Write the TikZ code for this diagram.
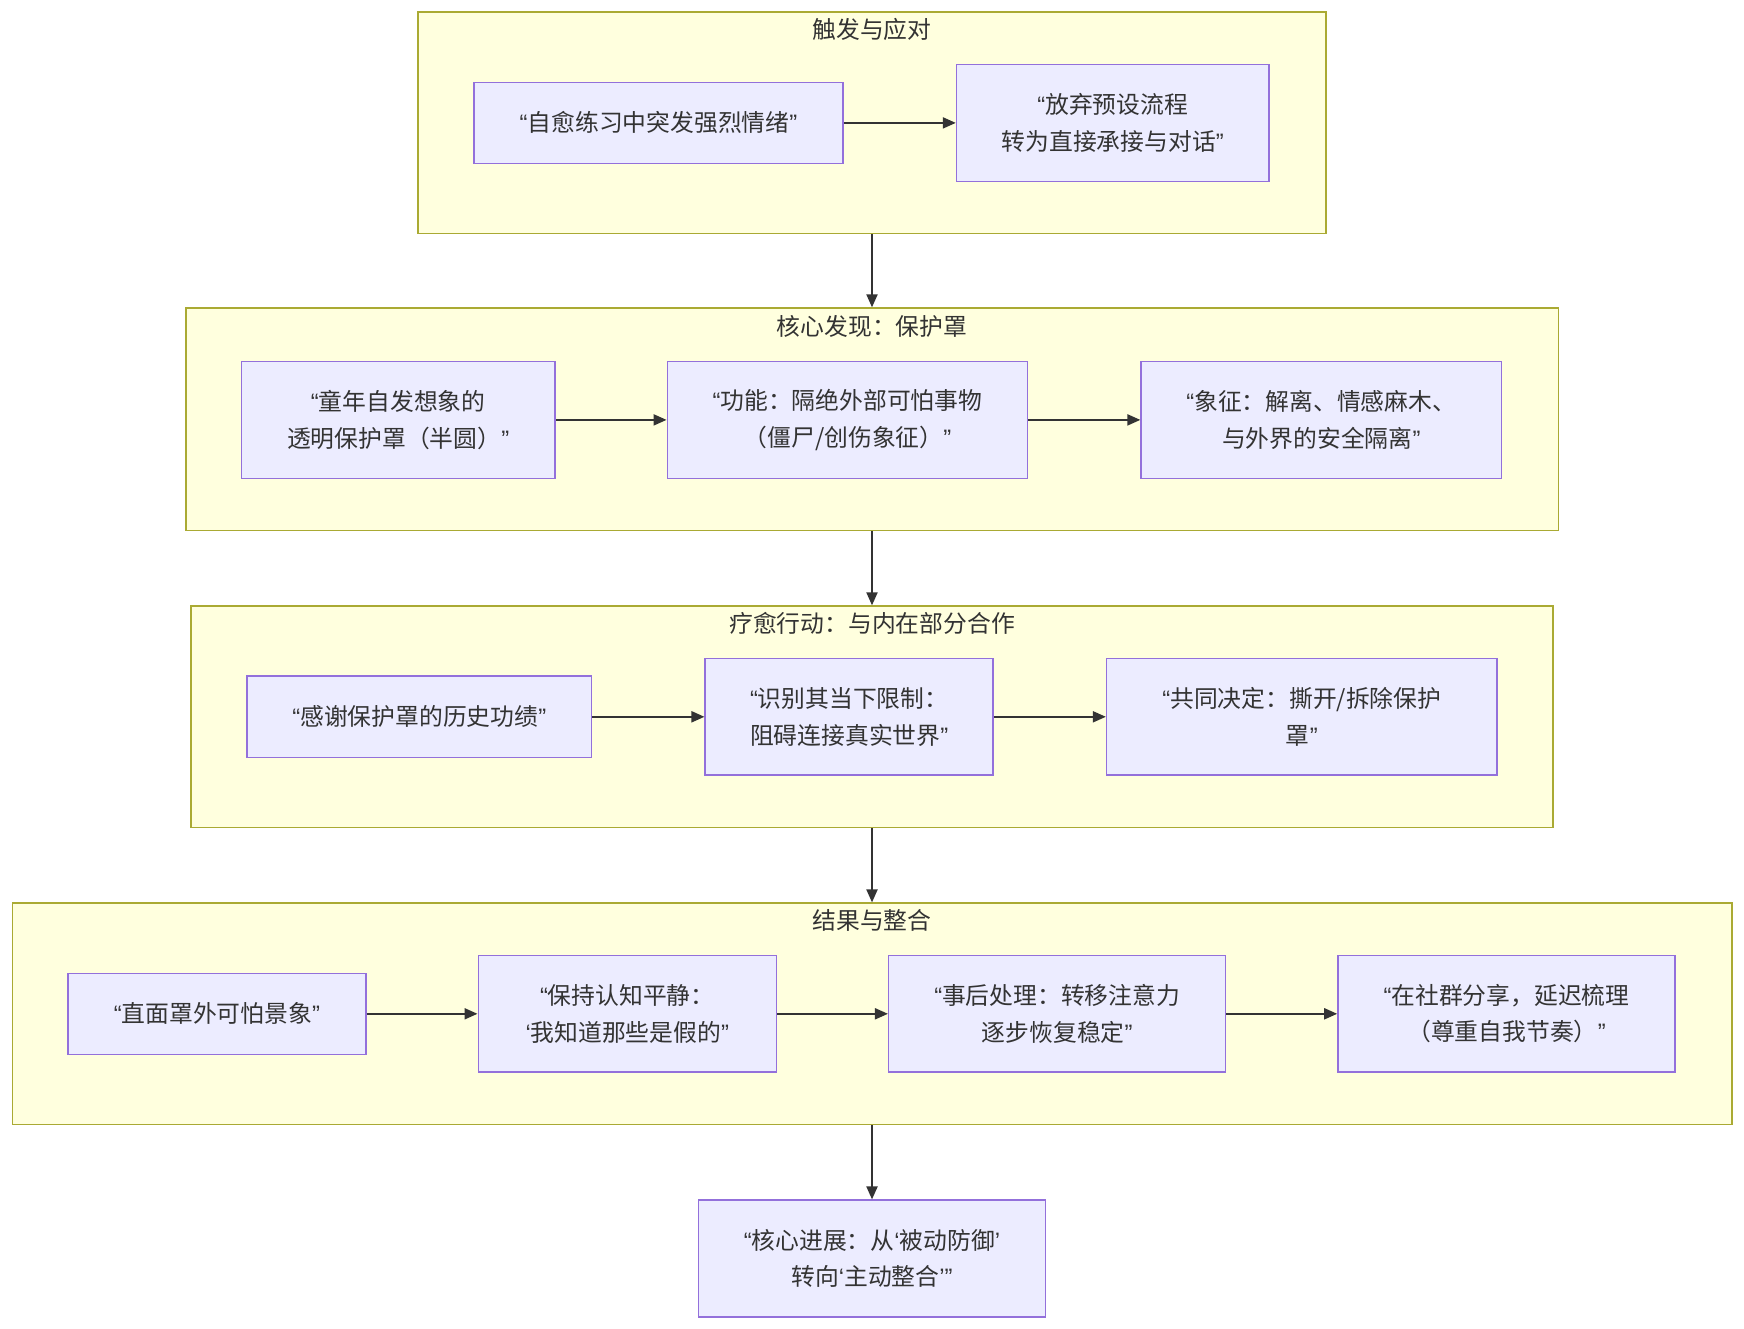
\documentclass[tikz,border=0pt]{standalone}
\usepackage{fontspec}
\usetikzlibrary{arrows.meta}
\newfontfamily\cjk{Noto Sans CJK SC}
\newfontfamily\latq{Liberation Sans}
\newcommand\oq{{\latq “}}
\newcommand\cq{{\latq ”}}
\newcommand\os{{\latq ‘}}
\newcommand\cs{{\latq ’}}
\definecolor{clfill}{HTML}{FFFFDE}
\definecolor{cldraw}{HTML}{AAAA33}
\definecolor{ndfill}{HTML}{ECECFF}
\definecolor{nddraw}{HTML}{9370DB}
\definecolor{txt}{HTML}{333333}
\tikzset{
  cluster/.style={draw=cldraw, fill=clfill, line width=1.5pt, inner sep=0pt, rectangle},
  ctitle/.style={text=txt, font=\cjk\fontsize{23.8}{36}\selectfont, inner sep=0pt},
  box/.style={draw=nddraw, fill=ndfill, line width=1.5pt, inner sep=0pt, rectangle,
    text=txt, align=center, font=\cjk\fontsize{23.8}{36.5}\selectfont},
  link/.style={draw=txt, line width=2pt, -{Triangle[length=13pt,width=11pt]}}
}
\begin{document}
\begin{tikzpicture}[x=1pt,y=-1pt]
\useasboundingbox (0,0) rectangle (1744,1329);
\fill[white] (0,0) rectangle (1744,1329);
% clusters
\node[cluster, minimum width=907.6pt, minimum height=221.4pt] (k1) at (872,122.9) {};
\node[ctitle] (t1) at (872,29) {触发与应对};
\node[cluster, minimum width=1372.5pt, minimum height=222.4pt] (k2) at (872,419.3) {};
\node[ctitle] (t2) at (872,326) {核心发现：保护罩};
\node[cluster, minimum width=1362.4pt, minimum height=221.4pt] (k3) at (872,716.8) {};
\node[ctitle] (t3) at (872,623) {疗愈行动：与内在部分合作};
\node[cluster, minimum width=1719.5pt, minimum height=221.3pt] (k4) at (872,1013.8) {};
\node[ctitle] (t4) at (872,920) {结果与整合};
% nodes
\node[box, minimum width=369.3pt, minimum height=81.2pt] (a1) at (658.5,122.9) {\oq 自愈练习中突发强烈情绪\cq};
\node[box, minimum width=312.5pt, minimum height=116.8pt] (a2) at (1112.8,122.9) {\oq 放弃预设流程\\转为直接承接与对话\cq};
\node[box, minimum width=313.7pt, minimum height=116.7pt] (b1) at (398.2,419.9) {\oq 童年自发想象的\\透明保护罩（半圆）\cq};
\node[box, minimum width=360.4pt, minimum height=116.7pt] (b2) at (847.5,419.9) {\oq 功能：隔绝外部可怕事物\\（僵尸/创伤象征）\cq};
\node[box, minimum width=360.4pt, minimum height=116.7pt] (b3) at (1321.3,419.9) {\oq 象征：解离、情感麻木、\\与外界的安全隔离\cq};
\node[box, minimum width=344.8pt, minimum height=81.2pt] (c1) at (419.3,716.8) {\oq 感谢保护罩的历史功绩\cq};
\node[box, minimum width=288.0pt, minimum height=116.8pt] (c2) at (849.2,716.8) {\oq 识别其当下限制：\\阻碍连接真实世界\cq};
\node[box, minimum width=390.4pt, minimum height=116.8pt] (c3) at (1301.8,716.8) {\oq 共同决定：撕开/拆除保护\\罩\cq};
\node[box, minimum width=298.1pt, minimum height=81.1pt] (d1) at (216.9,1013.8) {\oq 直面罩外可怕景象\cq};
\node[box, minimum width=298.1pt, minimum height=116.8pt] (d2) at (627.3,1013.8) {\oq 保持认知平静：\\\os 我知道那些是假的\cq};
\node[box, minimum width=337.0pt, minimum height=116.8pt] (d3) at (1057.2,1013.8) {\oq 事后处理：转移注意力\\逐步恢复稳定\cq};
\node[box, minimum width=337.1pt, minimum height=116.8pt] (d4) at (1506.5,1013.8) {\oq 在社群分享，延迟梳理\\（尊重自我节奏）\cq};
\node[box, minimum width=347.0pt, minimum height=116.7pt] (e) at (872,1258.5) {\oq 核心进展：从\os 被动防御\cs\\转向\os 主动整合\cs\cq};
% links
\draw[link] (a1) -- (a2);
\draw[link] (b1) -- (b2);
\draw[link] (b2) -- (b3);
\draw[link] (c1) -- (c2);
\draw[link] (c2) -- (c3);
\draw[link] (d1) -- (d2);
\draw[link] (d2) -- (d3);
\draw[link] (d3) -- (d4);
\draw[link] (k1.south) -- (k2.north);
\draw[link] (k2.south) -- (k3.north);
\draw[link] (k3.south) -- (k4.north);
\draw[link] (k4.south) -- (e.north);
\end{tikzpicture}
\end{document}
